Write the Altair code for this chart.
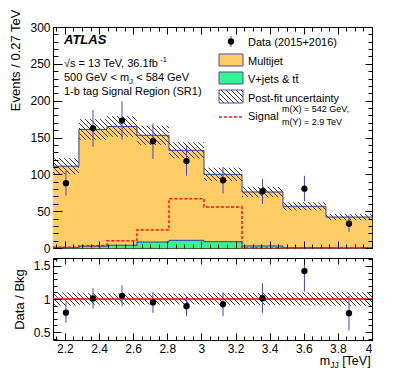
import math
import altair as alt
import pandas as pd

# ---------------- data ----------------
bin_edges = [2.13, 2.282, 2.447, 2.622, 2.810, 3.015, 3.238, 3.478, 3.730, 4.0]
multijet = [110.5, 158.5, 161.3, 144.9, 122.2, 91.4, 73.3, 56.3, 41.8]
vjets_tt = [0.5, 2.5, 3.7, 8.1, 10.4, 8.6, 2.7, 0.3, 0.2]
bkg_unc = [11, 14, 14, 13, 11, 9, 7, 5.5, 4.3]
signal = [1.0, 3.0, 10.0, 24.4, 67.0, 55.6, 0.0, 0.0, 0.0]
data_obs = [88, 162.5, 173, 145, 118, 92, 77, 80.5, 33]
data_err = [17, 25, 26, 24, 20, 18, 17, 17.5, 11]

x_major = [2.2, 2.4, 2.6, 2.8, 3.0, 3.2, 3.4, 3.6, 3.8, 4.0]
x_minor = [round(2.15 + 0.05 * i, 2) for i in range(38)]
y_major = [0, 50, 100, 150, 200, 250, 300]
y_minor = list(range(0, 301, 10))
r_major = [0.5, 1.0, 1.5]
r_minor = [round(0.4 + 0.1 * i, 1) for i in range(13)]

# ---------------- style / geometry ----------------
FONT = "Liberation Sans"
ORANGE = "#FFCC66"
GREEN = "#33F593"
OUTLINE = "#33409f"
EBLUE = "#4646c8"
W, H1, H2 = 319, 221, 82
X_DOM = [2.13, 4.0]
Y_DOM = [0, 300]
R_DOM = [0.38, 1.62]

lo = bin_edges[:-1]
hi = bin_edges[1:]
bins = pd.DataFrame({"lo": lo, "hi": hi, "mj": multijet, "vj": vjets_tt,
                     "unc": bkg_unc, "data": data_obs, "derr": data_err})
bins["c"] = (bins.lo + bins.hi) / 2
bins["zero"] = 0.0
bins["tot"] = bins.mj + bins.vj
bins["up"] = bins.tot + bins.unc
bins["dn"] = bins.tot - bins.unc
bins["dup"] = bins.data + bins.derr
bins["ddn"] = bins.data - bins.derr
bins["ratio"] = bins.data / bins.tot
bins["rup"] = bins.ratio + bins.derr / bins.tot
bins["rdn"] = bins.ratio - bins.derr / bins.tot
bins["bup"] = 1 + bins.unc / bins.tot
bins["bdn"] = 1 - bins.unc / bins.tot


def steps(vals):
    return pd.DataFrame({"sx": bin_edges, "sy": list(vals) + [list(vals)[-1]]})


def X(f, axis=None):
    return alt.X(f"{f}:Q", scale=alt.Scale(domain=X_DOM, nice=False, zero=False), axis=axis)


def Y(f, dom, axis=None):
    return alt.Y(f"{f}:Q", scale=alt.Scale(domain=dom, nice=False, zero=False), axis=axis)


def hatch(rects, ydom, H, sp=5.0):
    xr = X_DOM[1] - X_DOM[0]
    yr = ydom[1] - ydom[0]
    out = []
    for x0, x1, y0, y1 in rects:
        X0 = (x0 - X_DOM[0]) / xr * W
        X1 = (x1 - X_DOM[0]) / xr * W
        Yt = (ydom[1] - y1) / yr * H
        Yb = (ydom[1] - y0) / yr * H
        for k in range(math.ceil((Yt - X1) / sp), math.floor((Yb - X0) / sp) + 1):
            c = k * sp
            a = max(X0, Yt - c)
            b = min(X1, Yb - c)
            if b - a > 0.4:
                out.append({"hx": X_DOM[0] + a / W * xr, "hy": ydom[1] - (a + c) / H * yr,
                            "hx2": X_DOM[0] + b / W * xr, "hy2": ydom[1] - (b + c) / H * yr})
    return pd.DataFrame(out)


def hatch_layer(df, ydom):
    return alt.Chart(df).mark_rule(color="#222222", strokeWidth=0.9).encode(
        x=X("hx"), x2="hx2:Q", y=Y("hy", ydom), y2="hy2:Q")


def tick_axis(orient, offset, values, test, big, small):
    return alt.Axis(orient=orient, offset=offset, values=values, labels=False, domain=False,
                    grid=False, ticks=True, tickColor="black", tickWidth=1, title=None, zindex=1,
                    tickSize={"condition": {"test": test, "value": big}, "value": small})


XT = "abs(datum.value*5 - round(datum.value*5)) < 0.01"
YT = "datum.value % 50 == 0"
RT = "abs(datum.value*2 - round(datum.value*2)) < 0.01"

one = pd.DataFrame({"a": [0]})

WID = {" ": 278, "(": 333, ")": 333, "+": 584, ",": 278, "-": 333, ".": 278, "/": 278,
       "<": 584, "=": 584, "[": 278, "]": 278, "&": 667, "\u221a": 549,
       "A": 667, "B": 667, "D": 722, "G": 778, "J": 500, "M": 833, "R": 722, "S": 667,
       "T": 611, "V": 667, "X": 667, "Y": 667, "a": 556, "b": 556, "c": 500, "e": 556,
       "f": 278, "g": 556, "i": 222, "j": 222, "l": 222, "m": 833, "n": 556, "o": 556,
       "r": 333, "s": 500, "t": 278, "u": 556, "y": 500}


def tw(s, size):
    return sum(WID.get(ch, 556) for ch in s) * size / 1000.0


def txt(s, x, y, size=11, align="left", **kw):
    return alt.Chart(one).mark_text(text=s, align=align, baseline="alphabetic", fontSize=size,
                                    color="black", font=FONT, **kw).encode(
        x=alt.value(x), y=alt.value(y))


def pieces(parts, x, y):
    layers = []
    for s, size, dy in parts:
        body = s.lstrip(" ")
        lead = s[:len(s) - len(body)]
        layers.append(txt(body, x + tw(lead, size), y + dy, size))
        x += tw(s, size)
    return layers


carrier_top = pd.DataFrame({"cx": [3.0], "cy": [100.0]})
carrier_bot = pd.DataFrame({"cx": [3.0], "cy": [1.0]})

# ---------------- top panel ----------------
top_layers = [
    alt.Chart(bins).mark_rect(fill=ORANGE, stroke=ORANGE, strokeWidth=0.5).encode(
        x=X("lo"), x2="hi:Q", y=Y("tot", Y_DOM), y2="zero:Q"),
    alt.Chart(bins).mark_rect(fill=GREEN, stroke=GREEN, strokeWidth=0.5).encode(
        x=X("lo"), x2="hi:Q", y=Y("vj", Y_DOM), y2="zero:Q"),
    hatch_layer(hatch(list(zip(lo, hi, bins.dn, bins.up)), Y_DOM, H1), Y_DOM),
    alt.Chart(steps(bins.tot)).mark_line(interpolate="step-after", color=OUTLINE, strokeWidth=1).encode(
        x=X("sx"), y=Y("sy", Y_DOM)),
    alt.Chart(steps(vjets_tt)).mark_line(interpolate="step-after", color=OUTLINE, strokeWidth=1).encode(
        x=X("sx"), y=Y("sy", Y_DOM)),
    alt.Chart(steps(signal)).mark_line(interpolate="step-after", color="#ff1010", strokeWidth=1.5,
                                       strokeDash=[3, 2]).encode(x=X("sx"), y=Y("sy", Y_DOM)),
    alt.Chart(bins).mark_rule(color=EBLUE, strokeWidth=1).encode(
        x=X("c"), y=Y("ddn", Y_DOM), y2="dup:Q"),
    alt.Chart(bins).mark_circle(size=40, color="black", opacity=1).encode(
        x=X("c"), y=Y("data", Y_DOM)),
    # axes carriers
    alt.Chart(carrier_top).mark_point(opacity=0).encode(
        x=X("cx", tick_axis("top", -H1, x_minor, XT, 7, 4)),
        y=Y("cy", Y_DOM, alt.Axis(orient="left", values=y_major, ticks=False, domain=False, grid=False,
                                  labelFontSize=12, labelPadding=3, labelFont=FONT, labelColor="black",
                                  format="d", title="Events / 0.27 TeV", titleFontSize=13,
                                  titleFontWeight="normal", titleFont=FONT, titleColor="black",
                                  titleX=-31, titleY=-18, titleAngle=270, titleAlign="right",
                                  titleBaseline="bottom"))),
    alt.Chart(carrier_top).mark_point(opacity=0).encode(
        x=X("cx", tick_axis("bottom", -H1, x_minor, XT, 7, 4)),
        y=Y("cy", Y_DOM, tick_axis("right", -W, y_minor, YT, 9, 5))),
    alt.Chart(carrier_top).mark_point(opacity=0).encode(
        x=X("cx"),
        y=Y("cy", Y_DOM, tick_axis("left", -W, y_minor, YT, 7, 4))),
]

# annotations
top_layers.append(txt("ATLAS", 11, 17, 13, fontWeight="bold", fontStyle="italic"))
top_layers += pieces([("\u221as = 13 TeV, 36.1fb", 11, 0), ("-1", 7.5, -5)], 11, 40)
top_layers += pieces([("500 GeV < m", 11, 0), ("J", 8, 3), (" < 584 GeV", 11, 0)], 11, 54)
top_layers.append(txt("1-b tag Signal Region (SR1)", 11, 68, 11))

# legend
lx0, lx1 = 166, 190
top_layers += [
    alt.Chart(one).mark_rule(color=EBLUE, strokeWidth=1).encode(
        x=alt.value(178), y=alt.value(9), y2=alt.value(20)),
    alt.Chart(one).mark_circle(size=40, color="black", opacity=1).encode(
        x=alt.value(178), y=alt.value(14.5)),
    alt.Chart(one).mark_rect(fill=ORANGE, stroke="#4a4a9a", strokeWidth=1).encode(
        x=alt.value(lx0), x2=alt.value(lx1), y=alt.value(27), y2=alt.value(39)),
    alt.Chart(one).mark_rect(fill=GREEN, stroke="#4a4a9a", strokeWidth=1).encode(
        x=alt.value(lx0), x2=alt.value(lx1), y=alt.value(45), y2=alt.value(57)),
]


def inv_x(px):
    return X_DOM[0] + px / W * (X_DOM[1] - X_DOM[0])


def inv_y(py):
    return Y_DOM[1] - py / H1 * (Y_DOM[1] - Y_DOM[0])


top_layers.append(hatch_layer(hatch([(inv_x(lx0), inv_x(lx1), inv_y(76), inv_y(63))], Y_DOM, H1), Y_DOM))
top_layers.append(alt.Chart(one).mark_rect(fill="transparent", stroke="#4a4a9a", strokeWidth=1).encode(
    x=alt.value(lx0), x2=alt.value(lx1), y=alt.value(63), y2=alt.value(76)))
top_layers.append(alt.Chart(one).mark_rule(color="#ff1010", strokeWidth=1.5, strokeDash=[3, 2]).encode(
    x=alt.value(lx0), x2=alt.value(lx1), y=alt.value(90)))
top_layers += [
    txt("Data (2015+2016)", 195, 18.5, 11),
    txt("Multijet", 195, 38, 11),
    txt("V+jets & tt\u0304", 195, 56, 11),
    txt("Post-fit uncertainty", 195, 75, 11),
    txt("Signal", 195, 93, 11),
    txt("m(X) = 542 GeV,", 229, 85, 9),
    txt("m(Y) = 2.9 TeV", 229, 97.5, 9),
]

top = alt.layer(*top_layers).resolve_axis(x="independent", y="independent").properties(
    width=W, height=H1)

# ---------------- ratio panel ----------------
bot_layers = [
    hatch_layer(hatch(list(zip(lo, hi, bins.bdn, bins.bup)), R_DOM, H2), R_DOM),
    alt.Chart(pd.DataFrame({"one": [1.0]})).mark_rule(color="#ff0000", strokeWidth=1.5).encode(
        y=Y("one", R_DOM)),
    alt.Chart(bins).mark_rule(color=EBLUE, strokeWidth=1, clip=True).encode(
        x=X("c"), y=Y("rdn", R_DOM), y2="rup:Q"),
    alt.Chart(bins).mark_circle(size=40, color="black", opacity=1).encode(
        x=X("c"), y=Y("ratio", R_DOM)),
    alt.Chart(carrier_bot).mark_point(opacity=0).encode(
        x=X("cx", alt.Axis(orient="bottom", values=x_major, ticks=False, domain=False, grid=False,
                           labelFontSize=12, labelPadding=3, labelFont=FONT, labelColor="black",
                           format="~g", title=None)),
        y=Y("cy", R_DOM, alt.Axis(orient="left", values=r_major, ticks=False, domain=False, grid=False,
                                  labelFontSize=12, labelPadding=3, labelFont=FONT, labelColor="black",
                                  format="~g", title="Data / Bkg", titleFontSize=13,
                                  titleFontWeight="normal", titleFont=FONT, titleColor="black",
                                  titleX=-27, titleY=41, titleAngle=270, titleAlign="center",
                                  titleBaseline="bottom"))),
    alt.Chart(carrier_bot).mark_point(opacity=0).encode(
        x=X("cx", tick_axis("top", -H2, x_minor, XT, 7, 4)),
        y=Y("cy", R_DOM, tick_axis("right", -W, r_minor, RT, 8, 4))),
    alt.Chart(carrier_bot).mark_point(opacity=0).encode(
        x=X("cx", tick_axis("bottom", -H2, x_minor, XT, 6, 3)),
        y=Y("cy", R_DOM, tick_axis("left", -W, r_minor, RT, 7, 4))),
]
title_parts = [("m", 12.5, 0), ("JJ", 8.5, 3), (" [TeV]", 12.5, 0)]
total_w = sum(tw(s, z) for s, z, _ in title_parts)
bot_layers += pieces(title_parts, W - total_w, 107)

bottom = alt.layer(*bot_layers).resolve_axis(x="independent", y="independent").properties(
    width=W, height=H2)

chart = alt.vconcat(top, bottom, spacing=10, bounds="flush").properties(
    padding={"left": 0, "top": 0, "right": 4, "bottom": 4}
).configure(font=FONT).configure_view(stroke="black", strokeWidth=1)

chart.save("out.html", embed_options={"renderer": "svg", "actions": False})
